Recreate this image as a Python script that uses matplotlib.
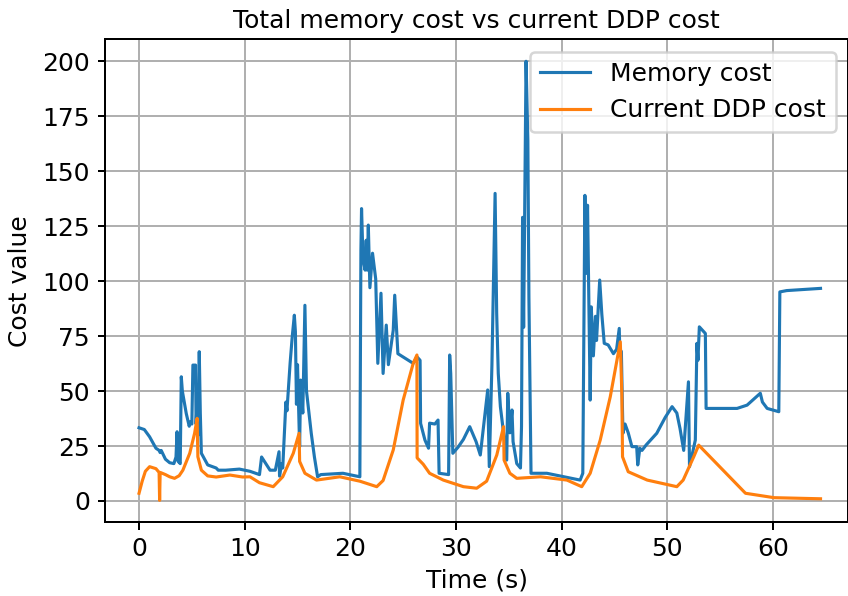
import matplotlib
matplotlib.use("Agg")
import matplotlib.pyplot as plt

# Memory cost series (time in s, value)
mem_t = [0, 0.5, 1.0, 1.6, 1.9, 2.0, 2.1, 2.5, 2.9, 3.3, 3.5, 3.6, 3.7, 3.9, 4.0, 4.1, 4.47, 4.75, 4.85, 5.0,
         5.1, 5.35, 5.4, 5.5, 5.6, 5.7, 5.8, 5.9, 6.2, 6.5, 7.0, 7.3, 7.5, 8.2, 9.5, 10.5, 11.4, 11.6, 12.0, 12.4,
         12.9, 13.25, 13.3, 13.5, 13.6, 13.9, 14.0, 14.3, 14.5, 14.7, 14.8, 14.9, 15.0, 15.2, 15.3, 15.5, 15.7, 15.85, 16.3, 16.6,
         16.9, 17.2, 19.3, 20.9, 21.0, 21.06, 21.2, 21.4, 21.5, 21.6, 21.7, 21.85, 22.1, 22.4, 22.6, 22.9, 23.1, 23.4, 23.6, 24.06,
         24.2, 24.5, 25.3, 25.95, 26.3, 26.6, 26.65, 27.06, 27.4, 27.5, 28.0, 28.3, 28.4, 29.3, 29.4, 29.5, 29.7, 30.2, 30.7, 31.3,
         31.9, 32.3, 33.0, 33.15, 33.4, 33.7, 33.85, 34.0, 34.2, 34.5, 34.8, 34.9, 35.1, 35.3, 35.4, 35.75, 36.1, 36.2, 36.3, 36.4,
         36.5, 36.63, 36.8, 36.9, 37.1, 38.6, 41.75, 42.0, 42.2, 42.3, 42.45, 42.6, 42.7, 42.8, 43.0, 43.2, 43.3, 43.6, 43.8, 44.03,
         44.4, 44.9, 45.2, 45.45, 45.5, 45.65, 45.8, 46.0, 46.3, 46.65, 47.1, 47.2, 47.4, 47.6, 48.0, 49.0, 49.8, 50.45, 50.9, 51.2,
         51.55, 52.0, 52.1, 52.65, 52.8, 52.9, 53.03, 53.6, 53.67, 56.6, 57.55, 58.8, 59.0, 59.45, 60.55, 60.65, 61.3, 64.5]
mem_v = [33.3, 32.5, 29.2, 24, 23, 22, 23, 19, 17.4, 17, 20, 31.5, 18, 17, 56.5, 50, 39.8, 34, 36, 35,
         61.8, 61.8, 35, 45, 30, 67.9, 40, 21.7, 19, 16.4, 15.5, 15, 14, 14, 14.5, 13.5, 12, 20, 17, 14,
         14, 22.4, 11.3, 17, 15, 45, 41, 62.7, 74.7, 84.5, 77, 44, 62, 24.7, 55, 40, 89, 50, 30.8, 20,
         11, 12, 12.6, 11, 114, 133, 110, 105, 118.6, 105, 125.5, 97, 112.7, 101, 62.6, 94.5, 58, 80, 62, 77.7,
         93.6, 67, 64.6, 62.6, 65.6, 64, 35.3, 27.7, 24, 35.4, 35, 36.8, 12.6, 12, 66.4, 58, 21.7, 24.5, 28, 33.8,
         27, 20.9, 50.5, 15.6, 61.8, 139.9, 85.4, 58, 42.9, 31, 18.6, 49, 31, 41.4, 27, 17, 15, 33.8, 129, 79,
         130.7, 200, 164, 92.9, 12.6, 12.6, 9.5, 12.6, 139, 103.5, 134.5, 80, 45.9, 88.3, 66, 84, 73, 100.5, 85, 71.7,
         71, 67, 69, 78.5, 69, 68, 30.8, 35, 31, 24.7, 24.7, 16.4, 24, 23, 25.5, 30.8, 38, 42.9, 40, 33,
         23, 54.2, 15.6, 27.7, 71.7, 64, 79.2, 76.2, 42.1, 42.1, 43.6, 49, 45, 42.1, 40.6, 95.1, 95.7, 96.7]

# Current DDP cost series
ddp_t = [0, 0.3, 0.6, 1.0, 1.6, 1.9, 1.95, 2.0, 2.5, 2.9, 3.36, 3.8, 4.15, 4.8, 5.26, 5.5, 5.57, 5.9, 6.5, 7.3,
         8.6, 9.8, 10.5, 11.4, 12.7, 13.6, 14.6, 15.15, 15.2, 15.7, 16.8, 19.0, 20.9, 22.5, 23.1, 24.06, 25.0, 25.95, 26.3, 26.32,
         26.9, 27.5, 28.8, 30.7, 31.96, 32.9, 33.86, 34.5, 34.55, 35.1, 35.75, 38.0, 40.5, 41.9, 42.7, 43.65, 44.6, 45.55, 45.7, 45.76,
         46.3, 48.1, 50.9, 51.5, 52.5, 52.97, 57.4, 60.1, 64.5]
ddp_v = [3.5, 9, 13.5, 15.6, 14.7, 13, 0.3, 13, 12, 11, 10.3, 11.5, 14, 21.7, 30.8, 37.6, 20.1, 14, 11.4, 10.9,
         11.8, 10.9, 11, 8.3, 6.5, 11, 21.7, 30.8, 18, 12.6, 9.5, 11, 9, 6.5, 9.3, 23.2, 45.9, 62.6, 66.4, 19.6,
         16.7, 12.6, 9.5, 6.5, 5.8, 9, 20.9, 33.8, 18.6, 12.6, 10.3, 11, 9.5, 6.5, 12.6, 27.7, 47.4, 72.4, 48, 20.1,
         13.3, 9.5, 6.5, 9.5, 20.1, 25.4, 3.5, 1.5, 1.0]

fig = plt.figure(figsize=(848 / 180, 596 / 180), dpi=180)
ax = fig.add_axes([105 / 848, (596 - 522.3) / 596, (848 - 105) / 848, (522.3 - 39.3) / 596])
ax.plot(mem_t, mem_v, color="#1f77b4", lw=1.25, label="Memory cost")
ax.plot(ddp_t, ddp_v, color="#ff7f0e", lw=1.25, label="Current DDP cost")
ax.set_xlim(-3.22, 67.1)
ax.set_ylim(-9.7, 210)
ax.set_xticks([0, 10, 20, 30, 40, 50, 60])
ax.set_yticks([0, 25, 50, 75, 100, 125, 150, 175, 200])
ax.tick_params(length=3, pad=3)
ax.grid(True)
ax.set_title("Total memory cost vs current DDP cost", fontsize=10, pad=4.5)
ax.set_xlabel("Time (s)", labelpad=3)
ax.set_ylabel("Cost value", labelpad=4)
ax.legend(loc="upper right")
fig.savefig("out.png", dpi=180)
